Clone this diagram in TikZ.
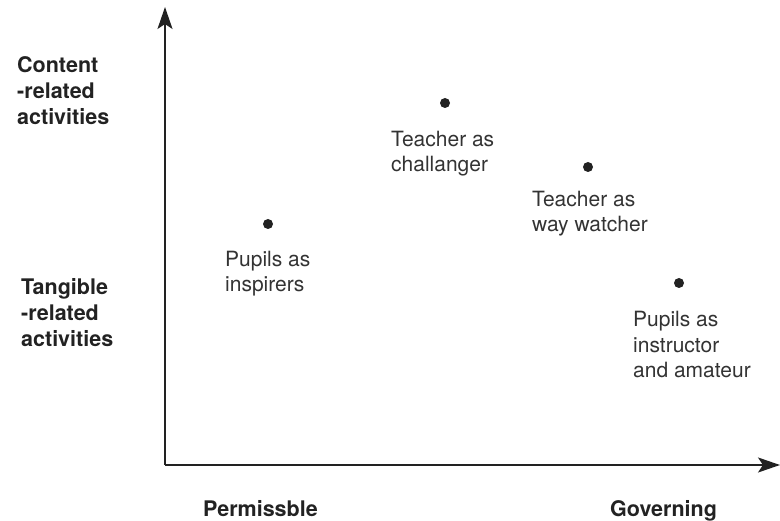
\documentclass[tikz,border=0pt]{standalone}
\usepackage{fontspec}
\setmainfont{TeX Gyre Heros}
\usetikzlibrary{arrows.meta}
\definecolor{ink}{HTML}{222222}
\definecolor{txt}{HTML}{333333}
\tikzset{
  axis/.style={draw=ink, line width=2pt, -{Stealth[length=22pt,width=15pt,inset=5pt]}},
  pt/.style={circle, fill=ink, inner sep=0pt, minimum size=10pt},
  role/.style={anchor=base west, align=left, inner sep=0pt, text=txt, font=\fontsize{21}{25.5}\selectfont},
  side/.style={anchor=base west, align=left, inner sep=0pt, text=ink, font=\bfseries\fontsize{21.5}{26}\selectfont},
  bottom/.style={anchor=base west, inner sep=0pt, text=ink, font=\bfseries\fontsize{21.5}{26}\selectfont}
}
\begin{document}
\begin{tikzpicture}[x=1pt,y=-1pt]
\useasboundingbox (0,0) rectangle (780,521);
\coordinate (origin) at (165,465);
\coordinate (ytop) at (165,7);
\coordinate (xend) at (780,465);
\draw[axis] (origin) -- (ytop);
\draw[axis] (origin) -- (xend);

\node[pt] (d1) at (268,224) {};
\node[pt] (d2) at (445,103) {};
\node[pt] (d3) at (588,167) {};
\node[pt] (d4) at (679,283) {};

\node[role] (l1) at (225,292) {Pupils as\\inspirers};
\node[role] (l2) at (391,172) {Teacher as\\challanger};
\node[role] (l3) at (532,232) {Teacher as\\way watcher};
\node[role] (l4) at (633,378) {Pupils as\\instructor\\and amateur};

\node[side] (c) at (17,125) {Content\\-related\\activities};
\node[side] (t) at (21,347) {Tangible\\-related\\activities};

\node[bottom] (p) at (203,517) {Permissble};
\node[bottom] (g) at (610,517) {Governing};
\end{tikzpicture}
\end{document}
